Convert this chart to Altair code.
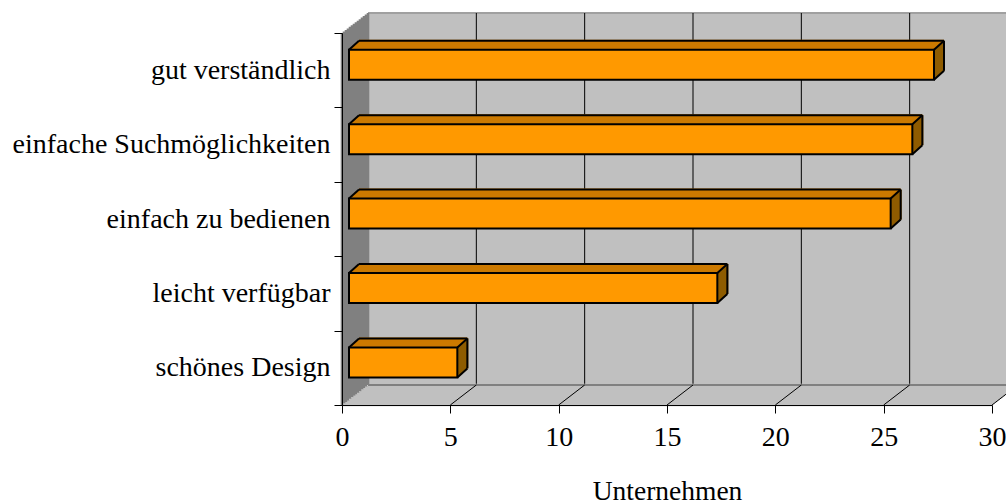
import altair as alt
import pandas as pd

# ---------------- data ----------------
categories = ["gut verständlich", "einfache Suchmöglichkeiten", "einfach zu bedienen",
              "leicht verfügbar", "schönes Design"]
values = [27, 26, 25, 17, 5]
x_ticks = [0, 5, 10, 15, 20, 25, 30]
x_title = "Unternehmen"

bars = pd.DataFrame({"cat": categories, "val": values, "zero": [0] * len(values)})
grid = pd.DataFrame({"t": x_ticks[1:]})
wall = pd.DataFrame({"lo": [x_ticks[0]], "hi": [x_ticks[-1]]})

# ---------------- style ----------------
W, H = 650, 372
DX, DY = 26, -20          # depth of the 3D box (px)
BX, BY = 7, -5.4          # bar front plane offset (px)
BDX, BDY = 10, -9         # bar depth (px)
BAR_H = 30
FONT = "Liberation Serif"
FRONT, TOP, SIDE = "#FF9900", "#CC7A00", "#8F5C00"
WALL, SIDEWALL, FLOOR = "#C0C0C0", "#808080", "#C0C0C0"

xs = alt.Scale(domain=[x_ticks[0], x_ticks[-1]], nice=False, zero=True)
ys = alt.Scale(domain=categories, paddingInner=0, paddingOuter=0)

X_AXIS = alt.Axis(values=x_ticks, grid=False, tickSize=8, tickColor="black", domainColor="black",
                  labelFont=FONT, labelFontSize=28, labelColor="black", labelPadding=10,
                  labelFlush=False, labelOverlap=False,
                  titleFont=FONT, titleFontSize=27.5, titleFontWeight="normal", titleColor="black",
                  titlePadding=26, zindex=1)
Y_AXIS = alt.Axis(tickBand="extent", tickSize=8, tickColor="black", domainColor="black",
                  labelFont=FONT, labelFontSize=28, labelColor="black", labelPadding=4,
                  labelLimit=0, grid=False, zindex=1)


def X(field):
    return alt.X(field, scale=xs, axis=X_AXIS, title=x_title)


def Y():
    return alt.Y("cat:N", scale=ys, sort=categories, axis=Y_AXIS, title=None)


layers = []

# back wall
layers.append(alt.Chart(wall).mark_rect(color=WALL, xOffset=DX, x2Offset=DX, yOffset=DY, y2Offset=DY).encode(
    x=X("lo:Q"), x2="hi:Q", y=alt.value(0), y2=alt.value("height")))
# back wall top edge
layers.append(alt.Chart(wall).mark_rule(color="#A0A0A0", strokeWidth=2, xOffset=DX, x2Offset=DX + 10,
                                        yOffset=DY, y2Offset=DY).encode(
    x=X("lo:Q"), x2="hi:Q", y=alt.value(0)))
# back wall gridlines
layers.append(alt.Chart(grid).mark_rule(color="black", strokeWidth=1, xOffset=DX, yOffset=DY, y2Offset=DY).encode(
    x=X("t:Q"), y=alt.value(0), y2=alt.value("height")))
# floor (extruded)
for j in range(0, 21, 2):
    layers.append(alt.Chart(wall).mark_rule(color=FLOOR, strokeWidth=2.6,
                                            xOffset=j * DX / -DY, x2Offset=j * DX / -DY,
                                            yOffset=-j, y2Offset=-j).encode(
        x=X("lo:Q"), x2="hi:Q", y=alt.value("height")))
# floor back edge
layers.append(alt.Chart(wall).mark_rule(color="#808080", strokeWidth=2, xOffset=DX, x2Offset=DX,
                                        yOffset=DY, y2Offset=DY).encode(
    x=X("lo:Q"), x2="hi:Q", y=alt.value("height")))
# floor diagonals
layers.append(alt.Chart(grid).mark_rule(color="black", strokeWidth=1, xOffset=0, x2Offset=DX,
                                        yOffset=0, y2Offset=DY).encode(
    x=X("t:Q"), x2="t:Q", y=alt.value("height"), y2=alt.value("height")))
# side wall (extruded)
for k in range(0, DX + 1, 2):
    layers.append(alt.Chart(wall).mark_rule(color=SIDEWALL, strokeWidth=2.6,
                                            xOffset=k, yOffset=k * DY / DX, y2Offset=k * DY / DX).encode(
        x=X("lo:Q"), y=alt.value(0), y2=alt.value("height")))

# bar top and side faces (extruded)
for i in range(0, BDX + 1):
    f = i / BDX
    ox, oy = BX + BDX * f, BY + BDY * f
    layers.append(alt.Chart(bars).mark_bar(color=TOP, size=2, xOffset=ox, x2Offset=ox,
                                           yOffset=oy - BAR_H / 2).encode(
        x=X("zero:Q"), x2="val:Q", y=Y()))
    layers.append(alt.Chart(bars).mark_bar(color=SIDE, size=BAR_H, xOffset=ox - 1, x2Offset=ox + 1,
                                           yOffset=oy).encode(
        x=X("val:Q"), x2="val:Q", y=Y()))

# bar edges
edge = dict(color="black", strokeWidth=2)
layers.append(alt.Chart(bars).mark_rule(**edge, xOffset=BX, x2Offset=BX + BDX,
                                        yOffset=BY - BAR_H / 2, y2Offset=BY - BAR_H / 2 + BDY).encode(
    x=X("zero:Q"), x2="zero:Q", y=Y(), y2="cat:N"))
layers.append(alt.Chart(bars).mark_rule(**edge, xOffset=BX, x2Offset=BX + BDX,
                                        yOffset=BY - BAR_H / 2, y2Offset=BY - BAR_H / 2 + BDY).encode(
    x=X("val:Q"), x2="val:Q", y=Y(), y2="cat:N"))
layers.append(alt.Chart(bars).mark_rule(**edge, xOffset=BX, x2Offset=BX + BDX,
                                        yOffset=BY + BAR_H / 2, y2Offset=BY + BAR_H / 2 + BDY).encode(
    x=X("val:Q"), x2="val:Q", y=Y(), y2="cat:N"))
layers.append(alt.Chart(bars).mark_rule(**edge, xOffset=BX + BDX, x2Offset=BX + BDX,
                                        yOffset=BY - BAR_H / 2 + BDY).encode(
    x=X("zero:Q"), x2="val:Q", y=Y()))
layers.append(alt.Chart(bars).mark_rule(**edge, xOffset=BX + BDX, x2Offset=BX + BDX,
                                        yOffset=BY - BAR_H / 2 + BDY, y2Offset=BY + BAR_H / 2 + BDY).encode(
    x=X("val:Q"), y=Y(), y2="cat:N"))

# bar front faces
layers.append(alt.Chart(bars).mark_bar(color=FRONT, stroke="black", strokeWidth=2, size=BAR_H,
                                       xOffset=BX, x2Offset=BX, yOffset=BY).encode(
    x=X("val:Q"), x2="zero:Q", y=Y()))

chart = alt.layer(*layers).properties(
    width=W, height=H, autosize=alt.AutoSizeParams(type="none"),
    padding={"left": 342, "top": 33, "right": 14, "bottom": 99},
    background="white",
).configure_view(stroke=None)

chart.save("out.html", embed_options={"renderer": "svg", "actions": False})
